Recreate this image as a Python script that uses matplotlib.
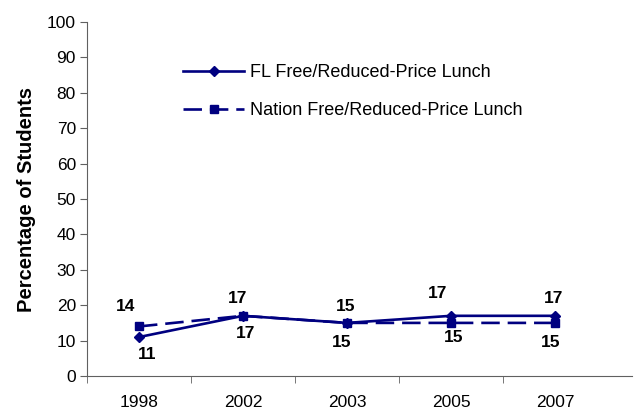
import numpy as np
import matplotlib.pyplot as plt

plt.rcParams['font.family'] = ['Liberation Sans', 'DejaVu Sans']

# data
years = ['1998', '2002', '2003', '2005', '2007']
fl_lunch = [11, 17, 15, 17, 17]
nation_lunch = [14, 17, 15, 15, 15]

# label offsets in pixels (layout only)
fl_offsets = [(8, -17), (3, -18), (-5, -20), (-13, 22), (-1, 17)]
nation_offsets = [(-13, 20), (-5, 17), (-1, 16), (3, -15), (-4, -20)]

navy = '#000080'

fig = plt.figure(figsize=(6.37, 4.12), dpi=100)
ax = fig.add_axes([87/637, 1-376/412, 545/637, 354/412])

x = np.arange(len(years))
ax.plot(x, fl_lunch, color=navy, lw=1.9, marker='D', ms=5,
        label='FL Free/Reduced-Price Lunch')
ax.plot(x, nation_lunch, color=navy, lw=1.9, marker='s', ms=5.5,
        dashes=(7, 3), label='Nation Free/Reduced-Price Lunch')

for i in range(len(years)):
    ax.annotate(str(fl_lunch[i]), (x[i], fl_lunch[i]), xytext=fl_offsets[i],
                textcoords='offset pixels', ha='center', va='center',
                fontsize=12.5, fontweight='bold')
    ax.annotate(str(nation_lunch[i]), (x[i], nation_lunch[i]), xytext=nation_offsets[i],
                textcoords='offset pixels', ha='center', va='center',
                fontsize=12.5, fontweight='bold')

ax.set_ylim(0, 100)
ax.set_yticks(range(0, 101, 10))
ax.set_xlim(-0.5, -0.5 + 545/104)
ax.set_xticks(x)
ax.set_xticklabels(years)
ax.set_xticks(np.arange(-0.5, 4, 1.0), minor=True)
ax.tick_params(axis='x', which='major', length=0, pad=14, labelsize=12.5)
ax.tick_params(axis='x', which='minor', length=5, color='#606060', direction='out')
ax.tick_params(axis='y', length=5, color='#606060', labelsize=12.5, pad=3)

for s in ['top', 'right']:
    ax.spines[s].set_visible(False)
for s in ['left', 'bottom']:
    ax.spines[s].set_color('#606060')

ax.set_ylabel('Percentage of Students', fontsize=14.5, fontweight='bold', labelpad=8)

ax.legend(loc='upper left', bbox_to_anchor=(0.176, 0.88), frameon=False,
          fontsize=13, handlelength=3.4, handletextpad=0.3, labelspacing=1.15,
          borderpad=0, borderaxespad=0)

fig.savefig('out.png', dpi=100)
